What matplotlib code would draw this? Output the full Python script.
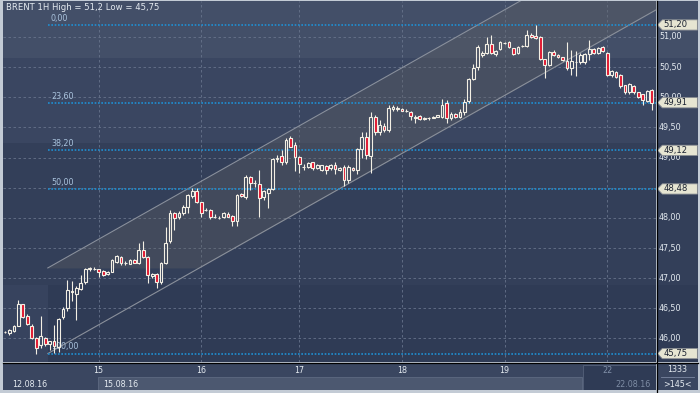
import numpy as np
import matplotlib
matplotlib.use('Agg')
import matplotlib.pyplot as plt
from matplotlib.patches import Polygon, Rectangle
from matplotlib.lines import Line2D
import matplotlib.transforms as mtrans

# hourly candles, 12.08.16 - 22.08.16
opens = [46.10, 46.09, 46.12, 46.21, 46.57, 46.38, 46.21, 46.00, 45.89, 46.00,
         45.91, 45.96, 45.86, 46.35, 46.50, 46.77, 46.73, 46.82, 46.93, 47.15,
         47.16, 47.15, 47.12, 47.07, 47.11, 47.27, 47.35, 47.25, 47.24, 47.30,
         47.25, 47.47, 47.35, 47.03, 47.07, 46.93, 47.25, 47.61, 48.08, 48.01,
         48.08, 48.18, 48.37, 48.45, 48.26, 48.13, 48.13, 48.02, 48.00, 48.01,
         48.07, 48.03, 47.95, 48.40, 48.34, 48.68, 48.58, 48.56, 48.34, 48.41,
         48.48, 48.97, 49.03, 48.92, 49.32, 49.21, 49.01, 48.85, 48.84, 48.92,
         48.82, 48.80, 48.86, 48.82, 48.87, 48.80, 48.85, 48.63, 48.82, 48.79,
         49.14, 49.34, 49.03, 49.67, 49.43, 49.52, 49.45, 49.81, 49.80, 49.81,
         49.78, 49.76, 49.65, 49.69, 49.64, 49.65, 49.66, 49.68, 49.68, 49.90,
         49.65, 49.73, 49.68, 49.76, 49.94, 50.30, 50.50, 50.70, 50.74, 50.89,
         50.71, 50.80, 50.90, 50.91, 50.81, 50.73, 50.85, 50.85, 51.03, 51.01,
         51.00, 50.63, 50.54, 50.75, 50.70, 50.66, 50.61, 50.49, 50.59, 50.58,
         50.58, 50.71, 50.80, 50.74, 50.83, 50.73, 50.37, 50.42, 50.37, 50.20,
         50.08, 50.19, 50.08, 50.05, 49.94, 50.12]
highs = [46.12, 46.15, 46.22, 46.64, 46.58, 46.40, 46.24, 46.02, 46.37, 46.02,
         45.96, 46.22, 46.34, 46.53, 46.97, 46.95, 46.87, 47.05, 47.17, 47.19,
         47.18, 47.16, 47.14, 47.12, 47.32, 47.39, 47.36, 47.28, 47.31, 47.31,
         47.59, 47.61, 47.36, 47.09, 47.08, 47.27, 47.85, 48.13, 48.10, 48.12,
         48.21, 48.40, 48.50, 48.50, 48.27, 48.17, 48.14, 48.06, 48.03, 48.10,
         48.09, 48.05, 48.39, 48.42, 48.71, 48.70, 48.63, 48.79, 48.47, 48.50,
         48.99, 49.05, 49.13, 49.32, 49.35, 49.26, 49.02, 48.90, 48.93, 48.93,
         48.89, 48.88, 48.87, 48.89, 48.92, 48.85, 48.87, 48.87, 48.84, 49.16,
         49.42, 49.42, 49.75, 49.70, 49.62, 49.57, 49.87, 49.87, 49.85, 49.82,
         49.80, 49.77, 49.70, 49.70, 49.67, 49.67, 49.69, 49.71, 49.97, 49.95,
         49.75, 49.74, 49.80, 49.98, 50.32, 50.55, 50.86, 50.76, 51.00, 51.03,
         50.79, 50.93, 50.92, 50.93, 50.82, 50.85, 50.87, 51.12, 51.07, 51.20,
         51.01, 50.64, 50.77, 50.78, 50.72, 50.67, 50.92, 50.78, 50.77, 50.73,
         50.73, 50.95, 50.82, 50.83, 50.85, 50.75, 50.46, 50.43, 50.38, 50.21,
         50.23, 50.20, 50.09, 50.06, 50.12, 50.14]
lows = [46.09, 46.06, 46.11, 46.20, 46.34, 46.22, 45.99, 45.75, 45.84, 45.87,
        45.81, 45.76, 45.78, 46.33, 46.45, 46.62, 46.31, 46.80, 46.90, 47.12,
        47.13, 47.02, 47.03, 47.05, 47.10, 47.26, 47.22, 47.22, 47.23, 47.25,
        47.24, 47.34, 46.92, 47.01, 46.83, 46.90, 47.24, 47.58, 47.80, 47.98,
        48.05, 48.08, 48.33, 48.24, 48.01, 48.11, 47.98, 47.99, 47.98, 48.00,
        48.01, 47.87, 47.87, 48.35, 48.32, 48.46, 48.51, 48.01, 48.30, 48.16,
        48.46, 48.92, 48.88, 48.90, 49.17, 48.77, 48.75, 48.80, 48.83, 48.80,
        48.81, 48.78, 48.73, 48.80, 48.72, 48.78, 48.53, 48.58, 48.77, 48.72,
        49.00, 48.98, 48.74, 49.38, 49.38, 49.42, 49.43, 49.78, 49.78, 49.77,
        49.76, 49.62, 49.58, 49.62, 49.63, 49.63, 49.65, 49.67, 49.66, 49.58,
        49.62, 49.66, 49.66, 49.70, 49.90, 50.28, 50.45, 50.66, 50.72, 50.72,
        50.68, 50.78, 50.88, 50.81, 50.70, 50.72, 50.83, 50.84, 50.99, 50.97,
        50.62, 50.32, 50.52, 50.69, 50.65, 50.60, 50.45, 50.37, 50.35, 50.56,
        50.55, 50.62, 50.71, 50.72, 50.75, 50.35, 50.34, 50.32, 50.15, 50.06,
        50.06, 50.06, 49.99, 49.87, 49.92, 49.79]
closes = [46.11, 46.14, 46.21, 46.58, 46.36, 46.24, 46.01, 45.84, 46.04, 45.91,
          45.95, 45.88, 46.33, 46.49, 46.80, 46.79, 46.83, 46.92, 47.15, 47.17,
          47.16, 47.11, 47.05, 47.11, 47.30, 47.36, 47.25, 47.25, 47.30, 47.26,
          47.46, 47.35, 47.05, 47.07, 46.94, 47.25, 47.59, 48.08, 48.00, 48.08,
          48.18, 48.38, 48.45, 48.26, 48.08, 48.13, 48.01, 48.02, 48.00, 48.08,
          48.02, 47.95, 48.38, 48.37, 48.68, 48.58, 48.58, 48.33, 48.45, 48.48,
          48.98, 49.00, 48.93, 49.30, 49.18, 49.01, 48.89, 48.85, 48.91, 48.82,
          48.87, 48.87, 48.80, 48.87, 48.81, 48.83, 48.63, 48.85, 48.79, 49.14,
          49.34, 49.04, 49.67, 49.43, 49.54, 49.45, 49.82, 49.84, 49.82, 49.78,
          49.78, 49.69, 49.68, 49.64, 49.66, 49.65, 49.68, 49.70, 49.87, 49.65,
          49.73, 49.68, 49.76, 49.93, 50.30, 50.48, 50.84, 50.74, 50.89, 50.74,
          50.77, 50.91, 50.90, 50.83, 50.72, 50.84, 50.85, 51.03, 51.00, 50.98,
          50.63, 50.54, 50.75, 50.70, 50.66, 50.62, 50.48, 50.60, 50.59, 50.70,
          50.71, 50.80, 50.73, 50.81, 50.77, 50.37, 50.44, 50.34, 50.18, 50.08,
          50.22, 50.08, 50.01, 49.96, 50.10, 49.91]

day_labels = ['15', '16', '17', '18', '19', '22']
day_ticks = [21, 44, 66, 89, 112, 135]
price_ticks = [46.0, 46.5, 47.0, 47.5, 48.0, 48.5, 49.0, 49.5, 50.0, 50.5, 51.0]

fib_names = ['0,00', '23,60', '38,20', '50,00', '100,00']
fib_levels = [51.20, 49.91, 49.12, 48.48, 45.75]
fib_start = 9.6

# parallel channel: start bar, lower/upper price at start, slope per bar
chan_start = 9.6
chan_low = 45.75
chan_high = 47.17
chan_slope = 0.0418

title = 'BRENT 1H High = 51,2 Low = 45,75'

W, H = 700, 393
XMIN, XMAX = -0.45, 145.96
YMIN, YMAX = 45.61, 51.597

TXT = '#e4eaf0'
WICK = '#f3efe4'
RED = '#e0142e'
FS = 5.8


def box(x0, y0, x1, y1):
    return [x0 / W, 1 - y1 / H, (x1 - x0) / W, (y1 - y0) / H]


def bands(a):
    a.axhspan(50.65, 60, color='#434f68', lw=0, zorder=0)
    a.axhspan(49.24, 50.65, color='#3a4661', lw=0, zorder=0)
    a.axhspan(46.89, 49.24, color='#333f59', lw=0, zorder=0)
    a.axhspan(40, 46.89, color='#2f3b55', lw=0, zorder=0)


def fmt(v):
    return ('%.2f' % v).replace('.', ',')


fig = plt.figure(figsize=(7, 3.93), dpi=100)
fig.patch.set_facecolor('#c3cbd5')

# main chart
ax = fig.add_axes(box(3, 1, 656, 362))
ax.set_xlim(XMIN, XMAX)
ax.set_ylim(YMIN, YMAX)
bands(ax)
ax.add_patch(Rectangle((XMIN, 40), fib_start - XMIN, 46.89 - 40, color='#37435e', lw=0, zorder=0))
for s in ax.spines.values():
    s.set_visible(False)
ax.set_yticks(price_ticks)
ax.set_xticks(day_ticks)
ax.tick_params(left=False, bottom=False, labelleft=False, labelbottom=False)
ax.grid(True, color='#67738b', ls=(0, (3, 3)), lw=0.6)
ax.set_axisbelow(True)

# channel
cx = np.linspace(chan_start, XMAX, 300)
lower = chan_low + chan_slope * (cx - chan_start)
upper = chan_high + chan_slope * (cx - chan_start)
ax.fill_between(cx, np.maximum(lower, chan_high), upper, where=upper >= chan_high,
                color='#646464', alpha=0.32, lw=0, zorder=1)
ax.plot(cx, lower, color='#8a909b', lw=0.8, zorder=1.5)
ax.plot(cx, upper, color='#8a909b', lw=0.8, zorder=1.5)

# fibonacci levels
for name, lv in zip(fib_names, fib_levels):
    ax.plot([fib_start, XMAX], [lv, lv], color='#1f8fd2', lw=1.2, ls=(0, (1, 1)), zorder=2)
    ax.text(fib_start + 0.7, lv + 0.035, name, color='#a9c2dc', fontsize=FS, va='bottom', ha='left', zorder=2)

# candles
o = np.array(opens)
h = np.array(highs)
l = np.array(lows)
c = np.array(closes)
x = np.arange(len(o))
bot = np.minimum(o, c)
top = np.maximum(o, c)
up = c >= o
ax.vlines(x, l, bot, color=WICK, lw=0.8, zorder=3)
ax.vlines(x, top, h, color=WICK, lw=0.8, zorder=3)
ax.bar(x[up], (top - bot)[up], bottom=bot[up], width=0.62, facecolor='none',
       edgecolor=WICK, lw=0.8, zorder=4)
ax.bar(x[~up], (top - bot)[~up], bottom=bot[~up], width=0.62, facecolor=RED,
       edgecolor=WICK, lw=0.8, zorder=4)

ax.text(0.004, 0.994, title, transform=ax.transAxes, color=TXT, fontsize=FS + 0.3,
        va='top', ha='left', zorder=6)

# right price panel
ax2 = fig.add_axes(box(657, 1, 698, 362))
ax2.set_xlim(0, 1)
ax2.set_ylim(YMIN, YMAX)
bands(ax2)
ax2.axis('off')
for v in price_ticks:
    # a label sitting fully under a level tag is not shown
    if min(abs(v - lv) for lv in fib_levels) < 0.05:
        continue
    ax2.text(0.05, v, fmt(v), color=TXT, fontsize=FS, va='center', ha='left', zorder=2)
tr = mtrans.blended_transform_factory(ax2.transAxes, ax2.transData)
hh = 0.085
for lv in fib_levels:
    ax2.add_patch(Polygon([(0.01, lv), (0.13, lv + hh), (0.985, lv + hh), (0.985, lv - hh), (0.13, lv - hh)],
                          closed=True, transform=tr, facecolor='#e6e5d2', edgecolor='#8a8e94', lw=0.6, zorder=3))
    ax2.text(0.15, lv, fmt(lv), transform=tr, color='#1b2231', fontsize=FS + 0.3, va='center', ha='left', zorder=4)

# bottom time panel
ax3 = fig.add_axes(box(3, 363, 656, 390))
ax3.set_xlim(XMIN, XMAX)
ax3.set_ylim(0, 1)
ax3.axis('off')
ax3.add_patch(Rectangle((XMIN, 0), XMAX - XMIN, 1, color='#3a4660', lw=0))
ax3.add_patch(Rectangle((day_ticks[0] - 0.15, 0), 129.6 - day_ticks[0], 0.47, facecolor='#4c5870',
                        edgecolor='#5e6a82', lw=0.6))
ax3.add_patch(Rectangle((129.6, 0), XMAX - 129.6, 0.93, facecolor='#2f3b55', edgecolor='#55617a', lw=0.6))
for t, lab in zip(day_ticks, day_labels):
    col = '#8190a8' if lab == '22' else TXT
    ax3.text(t, 0.74, lab, color=col, fontsize=FS, ha='center', va='center')
ax3.text(XMIN + 2.0, 0.22, '12.08.16', color=TXT, fontsize=FS, ha='left', va='center')
ax3.text(day_ticks[0] + 1.0, 0.22, '15.08.16', color=TXT, fontsize=FS, ha='left', va='center')
ax3.text(XMAX - 1.3, 0.22, '22.08.16', color='#7d8ca4', fontsize=FS, ha='right', va='center')

# corner counter
ax4 = fig.add_axes(box(657, 363, 698, 390))
ax4.set_xlim(0, 1)
ax4.set_ylim(0, 1)
ax4.axis('off')
ax4.add_patch(Rectangle((0, 0), 1, 1, color='#3a4660', lw=0))
ax4.plot([0.1, 0.9], [0.47, 0.47], color='#7a86a0', lw=0.6)
ax4.text(0.5, 0.76, '1333', color=TXT, fontsize=FS, ha='center', va='center')
ax4.text(0.5, 0.22, '>145<', color=TXT, fontsize=FS, ha='center', va='center')

# separators
fig.add_artist(Line2D([656.5 / W, 656.5 / W], [0, 1 - 1 / H], color='#000000', lw=0.9))
fig.add_artist(Line2D([3 / W, 698 / W], [1 - 362.5 / H, 1 - 362.5 / H], color='#000000', lw=0.9))

fig.savefig('out.png', dpi=100, facecolor=fig.get_facecolor())
